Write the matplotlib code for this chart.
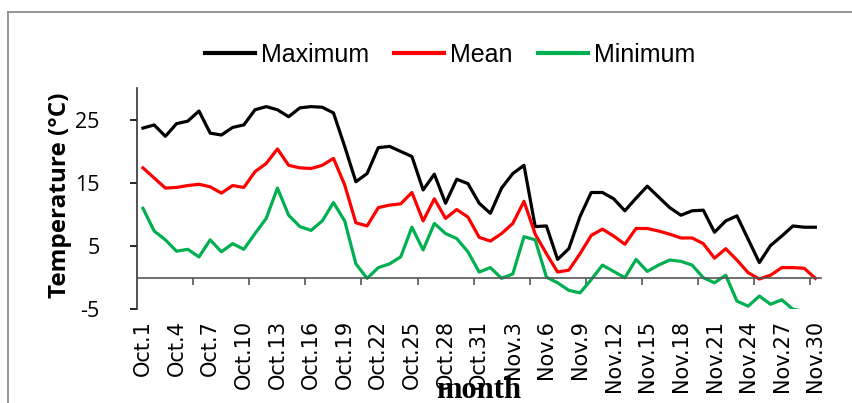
import numpy as np
import matplotlib
matplotlib.use('Agg')
import matplotlib.pyplot as plt
from matplotlib.lines import Line2D

plt.rcParams['axes.unicode_minus'] = False

# daily temperatures, Oct.1 .. Nov.30
days = ['Oct.%d' % d for d in range(1, 32)] + ['Nov.%d' % d for d in range(1, 31)]

t_max = [23.7, 24.2, 22.4, 24.4, 24.8, 26.4, 22.9, 22.6, 23.8, 24.2,
         26.6, 27.1, 26.6, 25.5, 26.9, 27.1, 27.0, 26.1, 20.8, 15.2,
         16.5, 20.6, 20.8, 20.0, 19.2, 13.9, 16.4, 11.8, 15.6, 14.9,
         11.8, 10.2, 14.2, 16.5, 17.8, 8.1, 8.2, 2.9, 4.6, 9.7,
         13.5, 13.5, 12.5, 10.6, 12.6, 14.5, 12.8, 11.1, 9.9, 10.6,
         10.7, 7.2, 9.0, 9.8, 6.1, 2.4, 5.1, 6.6, 8.2, 8.0, 8.0]

t_mean = [17.4, 15.8, 14.2, 14.3, 14.6, 14.8, 14.4, 13.4, 14.6, 14.3,
          16.8, 18.1, 20.4, 17.8, 17.4, 17.3, 17.8, 18.9, 14.7, 8.7,
          8.2, 11.1, 11.5, 11.7, 13.5, 9.0, 12.5, 9.4, 10.8, 9.6,
          6.4, 5.8, 7.0, 8.6, 12.1, 6.9, 3.8, 0.9, 1.2, 3.8,
          6.7, 7.7, 6.6, 5.3, 7.8, 7.8, 7.4, 6.9, 6.3, 6.3,
          5.4, 3.1, 4.6, 2.8, 0.8, -0.2, 0.4, 1.6, 1.6, 1.5, -0.1]

t_min = [11.0, 7.4, 6.0, 4.2, 4.5, 3.3, 6.0, 4.1, 5.4, 4.5,
         7.0, 9.4, 14.2, 9.9, 8.1, 7.5, 9.0, 11.9, 9.0, 2.2,
         -0.1, 1.6, 2.2, 3.3, 8.0, 4.4, 8.6, 7.0, 6.2, 4.1,
         0.9, 1.6, -0.1, 0.6, 6.5, 6.0, 0.1, -0.8, -2.0, -2.4,
         -0.3, 2.0, 1.0, 0.0, 2.9, 1.0, 2.0, 2.8, 2.6, 2.0,
         0.0, -0.8, 0.4, -3.7, -4.5, -2.9, -4.2, -3.5, -5.0, -5.3, np.nan]

x = np.arange(len(days))

fig = plt.figure(figsize=(8.52, 4.03), dpi=100)
ax = fig.add_axes([0.1612, 0.2325, 0.8024, 0.5484])

ax.plot(x, t_max, color='black', lw=2.3, label='Maximum')
ax.plot(x, t_mean, color='#ff0000', lw=2.3, label='Mean')
ax.plot(x, t_min, color='#00b050', lw=2.3, label='Minimum')

ax.set_xlim(-0.5, len(days) - 0.5)
ax.set_ylim(-5, 30)
ax.set_yticks([-5, 5, 15, 25])

ax.spines['top'].set_visible(False)
ax.spines['right'].set_visible(False)
ax.spines['bottom'].set_position(('data', 0))
ax.spines['bottom'].set_color('#555555')
ax.spines['left'].set_color('#333333')
ax.spines['left'].set_linewidth(1.2)
ax.spines['bottom'].set_linewidth(1.2)

ax.set_xticks(x[::3])
ax.set_xticklabels(days[::3], rotation=90, fontsize=15, family='DejaVu Sans')
ax.set_xticks(np.arange(4.5, 60, 5), minor=True)
ax.tick_params(axis='x', which='major', length=0, pad=30.5)
ax.tick_params(axis='x', which='minor', direction='out', length=5, width=1.2, color='#555555')
ax.tick_params(axis='y', direction='out', length=5, width=1.2, pad=22, labelsize=15.5)
for lab in ax.get_yticklabels():
    lab.set_family('Open Sans')

ax.set_ylabel('Temperature (\u00b0C)', fontsize=17.5, fontweight='bold', family='Open Sans')
ax.yaxis.set_label_coords(-0.113, 0.517)
ax.yaxis.label.set_verticalalignment('center')

ax.set_xlabel('month', fontsize=22, fontweight='bold', family='Liberation Serif')
ax.xaxis.set_label_coords(0.5, -0.401)
ax.xaxis.label.set_verticalalignment('baseline')

leg = fig.legend(loc='center', bbox_to_anchor=(0.528, 0.8635), ncol=3, frameon=False,
                 prop={'family': 'Liberation Sans', 'size': 18},
                 handlelength=2.0, handletextpad=0.25, columnspacing=1.0)
for h in leg.get_lines():
    h.set_linewidth(3)

# outer chart-area border
fig.add_artist(Line2D([7.5 / 852, 7.5 / 852], [0, 1 - 12 / 403], color='#8c8c8c', lw=1.3))
fig.add_artist(Line2D([7.5 / 852, 1], [1 - 12 / 403, 1 - 12 / 403], color='#8c8c8c', lw=1.3))

fig.savefig('out.png', dpi=100)
